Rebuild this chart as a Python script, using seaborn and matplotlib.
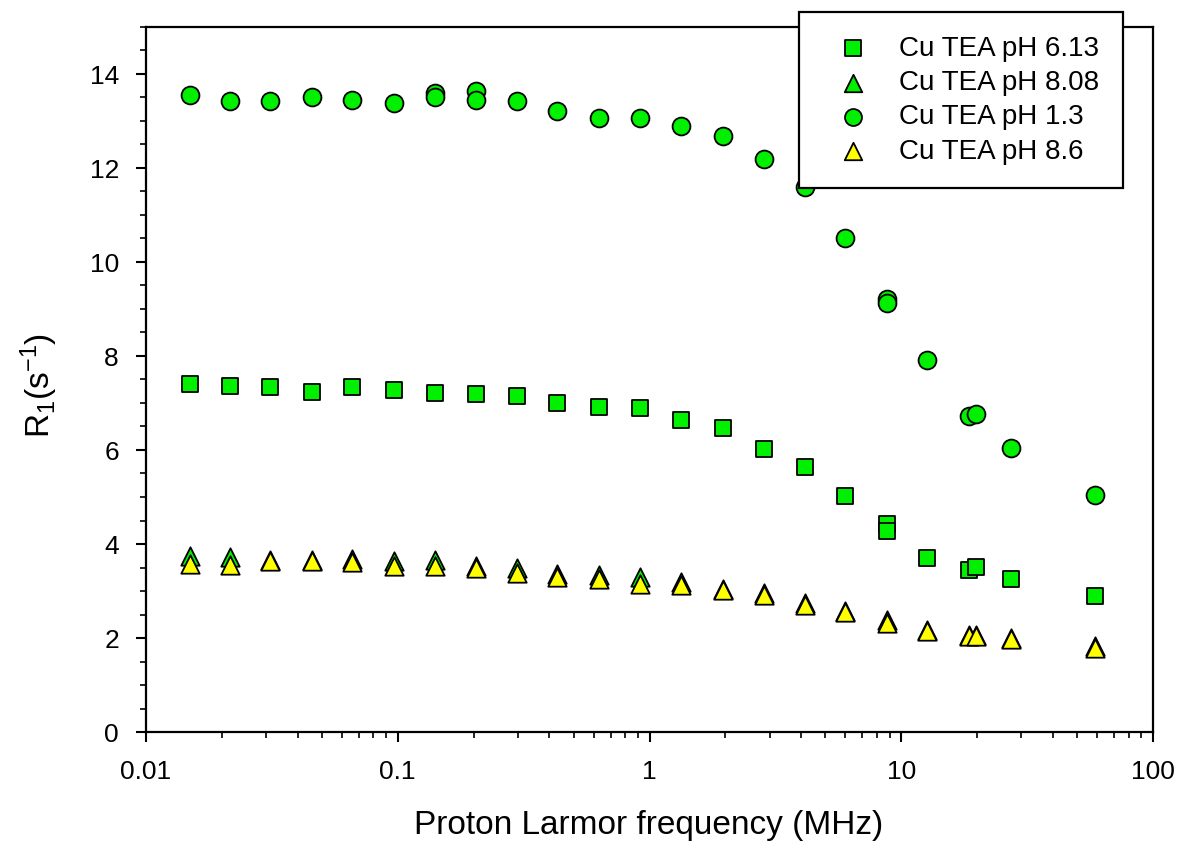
import matplotlib
matplotlib.use("Agg")
import matplotlib.pyplot as plt
import seaborn as sns
import numpy as np
import pandas as pd
from matplotlib.ticker import MultipleLocator, LogLocator, FixedLocator, FixedFormatter, NullFormatter

# ---- data ----
freq_main = [0.015, 0.0215, 0.031, 0.0455, 0.066, 0.097, 0.14, 0.204, 0.297, 0.43, 0.63, 0.915,
             1.34, 1.95, 2.84, 4.13, 6.0, 8.75, 12.7, 18.5, 19.9, 27.2, 59.0]

# Cu TEA pH 6.13 (squares)
freq_ph613 = [0.015, 0.0215, 0.031, 0.0455, 0.066, 0.097, 0.14, 0.204, 0.297, 0.43, 0.63, 0.915,
              1.34, 1.95, 2.84, 4.13, 6.0, 8.75, 8.75, 12.7, 18.5, 19.9, 27.2, 59.0]
r1_ph613 = [7.40, 7.37, 7.33, 7.23, 7.34, 7.28, 7.22, 7.20, 7.14, 7.01, 6.91, 6.89,
            6.63, 6.47, 6.02, 5.63, 5.02, 4.43, 4.28, 3.70, 3.44, 3.52, 3.25, 2.90]

# Cu TEA pH 8.08 (green triangles)
freq_ph808 = freq_main
r1_ph808 = [3.74, 3.72, 3.66, 3.66, 3.69, 3.63, 3.67, 3.53, 3.50, 3.36, 3.34, 3.30,
            3.20, 3.05, 2.95, 2.75, 2.58, 2.39, 2.16, 2.06, 2.06, 1.99, 1.82]

# Cu TEA pH 1.3 (circles)
freq_ph13 = [0.015, 0.0215, 0.031, 0.0455, 0.066, 0.097, 0.14, 0.14, 0.204, 0.204, 0.297, 0.43,
             0.63, 0.915, 1.34, 1.95, 2.84, 4.13, 6.0, 8.75, 8.75, 12.7, 18.5, 19.9, 27.2, 59.0]
r1_ph13 = [13.56, 13.43, 13.43, 13.52, 13.45, 13.39, 13.60, 13.50, 13.64, 13.44, 13.42, 13.22,
           13.07, 13.06, 12.90, 12.68, 12.19, 11.59, 10.51, 9.22, 9.13, 7.91, 6.73, 6.77, 6.05, 5.04]

# Cu TEA pH 8.6 (yellow triangles)
freq_ph86 = freq_main
r1_ph86 = [3.58, 3.55, 3.64, 3.63, 3.62, 3.53, 3.54, 3.50, 3.39, 3.30, 3.26, 3.14,
           3.13, 3.03, 2.91, 2.70, 2.56, 2.31, 2.14, 2.04, 2.04, 1.98, 1.78]

labels = ["Cu TEA pH 6.13", "Cu TEA pH 8.08", "Cu TEA pH 1.3", "Cu TEA pH 8.6"]
x_ticks = [0.01, 0.1, 1, 10, 100]
x_tick_labels = ["0.01", "0.1", "1", "10", "100"]
y_ticks = [0, 2, 4, 6, 8, 10, 12, 14]

# ---- style ----
sns.set_style("ticks")
plt.rcParams['font.family'] = ['Liberation Sans', 'DejaVu Sans']
plt.rcParams['mathtext.fontset'] = 'custom'
plt.rcParams['mathtext.rm'] = 'Liberation Sans'
plt.rcParams['mathtext.it'] = 'Liberation Sans'
plt.rcParams['text.color'] = 'black'
plt.rcParams['axes.labelcolor'] = 'black'
plt.rcParams['xtick.color'] = 'black'
plt.rcParams['ytick.color'] = 'black'

GREEN = "#00f000"
YELLOW = "#ffff00"

fig = plt.figure(figsize=(11.81, 8.55), dpi=100)
ax = fig.add_axes([146/1181, 1 - 732/855, (1153 - 146)/1181, (732 - 27)/855])

series = [
    (freq_ph613, r1_ph613, labels[0], "s", GREEN, 140),
    (freq_ph808, r1_ph808, labels[1], "^", GREEN, 175),
    (freq_ph13, r1_ph13, labels[2], "o", GREEN, 165),
    (freq_ph86, r1_ph86, labels[3], "^", YELLOW, 175),
]
for xs, ys, lab, mk, col, s in series:
    df = pd.DataFrame({"f": xs, "r1": ys})
    sns.scatterplot(data=df, x="f", y="r1", ax=ax, marker=mk, color=col, s=s,
                    edgecolor="black", linewidth=1.3, label=lab, zorder=3)

ax.set_xscale("log")
ax.set_xlim(0.01, 100)
ax.set_ylim(0, 15)

ax.xaxis.set_major_locator(FixedLocator(x_ticks))
ax.xaxis.set_major_formatter(FixedFormatter(x_tick_labels))
ax.xaxis.set_minor_locator(LogLocator(base=10, subs=np.arange(2, 10)))
ax.xaxis.set_minor_formatter(NullFormatter())
ax.yaxis.set_major_locator(FixedLocator(y_ticks))
ax.yaxis.set_minor_locator(MultipleLocator(0.5))

for sp in ax.spines.values():
    sp.set_linewidth(1.6)
    sp.set_color("black")

ax.tick_params(axis="both", which="major", direction="out", length=7.5, width=1.5,
               labelsize=19, colors="black")
ax.tick_params(axis="both", which="minor", direction="out", length=4.5, width=1.2)
ax.tick_params(axis="x", which="major", pad=13)
ax.tick_params(axis="y", which="major", pad=12)
ax.tick_params(top=False, right=False, which="both")

ax.set_xlabel("Proton Larmor frequency (MHz)", fontsize=24)
ax.set_ylabel("R$_1$(s$^{-1}$)", fontsize=24)
ax.xaxis.set_label_coords(0.4995, -0.111)
ax.yaxis.set_label_coords(-0.085, 0.492)

leg = ax.legend(loc="upper right", bbox_to_anchor=(1123/1181, 1 - 12/855),
                bbox_transform=fig.transFigure, borderaxespad=0, fontsize=20, frameon=True,
                fancybox=False, framealpha=1, edgecolor="black", borderpad=0.85,
                labelspacing=0.3, handlelength=2.2, handletextpad=0.55,
                markerscale=0.95)
leg.get_frame().set_linewidth(1.6)
leg.set_zorder(10)

fig.savefig("out.png", dpi=100)
